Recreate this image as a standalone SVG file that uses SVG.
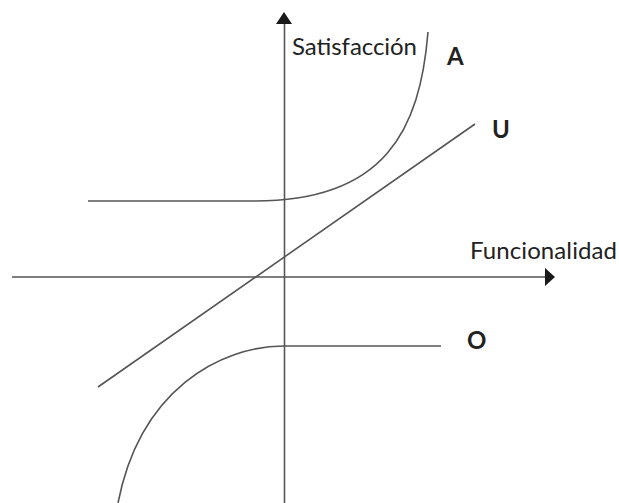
<svg xmlns="http://www.w3.org/2000/svg" width="619" height="503" viewBox="0 0 619 503">
<style>
.ln{fill:none;stroke:#555;stroke-width:1.6}
.ah{fill:#1a1a1a}
.t{font-family:Lato,"Noto Sans",sans-serif;font-size:24px;fill:#222}
.b{font-weight:bold}
</style>
<rect width="619" height="503" fill="#fff"/>
<g id="axes">
<line class="ln" x1="284.5" y1="22" x2="284.5" y2="503"/>
<polygon class="ah" points="284,12 276,24 292,24"/>
<line class="ln" x1="12" y1="277" x2="547" y2="277"/>
<polygon class="ah" points="555,277 545,268 545,286"/>
</g>
<g id="connectors">
<path id="curve-A" class="ln" d="M88,201 L255,201 C385,201 420,130 428,32"/>
<path id="line-U" class="ln" d="M98,387 L475,124"/>
<path id="curve-O" class="ln" d="M441,346 L284,346 C220,346 140,390 118,503"/>
</g>
<g id="labels">
<text class="t" x="292" y="55" textLength="125">Satisfacción</text>
<text class="t" x="470" y="259" textLength="147">Funcionalidad</text>
<text class="t b" x="447" y="65">A</text>
<text class="t b" x="492" y="138">U</text>
<text class="t b" x="467" y="349">O</text>
</g>
</svg>
